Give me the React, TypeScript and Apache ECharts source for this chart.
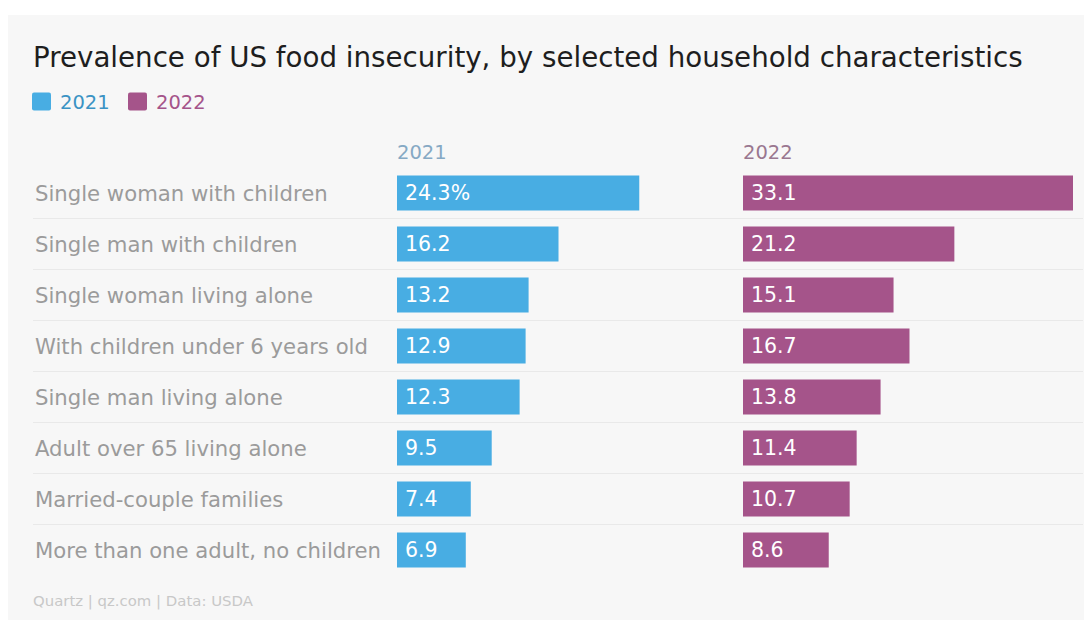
import React, { useEffect, useRef } from "react";
import * as echarts from "echarts";

const categories = [
  "Single woman with children",
  "Single man with children",
  "Single woman living alone",
  "With children under 6 years old",
  "Single man living alone",
  "Adult over 65 living alone",
  "Married-couple families",
  "More than one adult, no children",
];
const values2021 = [24.3, 16.2, 13.2, 12.9, 12.3, 9.5, 7.4, 6.9];
const values2022 = [33.1, 21.2, 15.1, 16.7, 13.8, 11.4, 10.7, 8.6];
const seriesNames = ["2021", "2022"];

const BLUE = "#48ade3";
const PURPLE = "#a5548a";
const FONT = "'DejaVu Sans', Verdana, sans-serif";

export default function App() {
  const ref = useRef<HTMLDivElement>(null);
  useEffect(() => {
    if (!ref.current) return;
    const chart = echarts.init(ref.current, null, { renderer: "svg" });
    const gridTop = 159.5;
    const gridH = 408;
    const sepColors = ["rgba(0,0,0,0)", ...Array(7).fill("#e9e9e9"), "rgba(0,0,0,0)"];
    chart.setOption({
      animation: false,
      backgroundColor: "#ffffff",
      textStyle: { fontFamily: FONT },
      graphic: [
        { type: "rect", z: -10, shape: { x: 0, y: 7, width: 1084, height: 605 }, style: { fill: "#f7f7f7" } },
        { type: "text", x: 25, y: 49, style: { text: "Prevalence of US food insecurity, by selected household characteristics", fontSize: 27.7, fill: "#1e1e1e", fontFamily: FONT, verticalAlign: "middle" } },
        { type: "rect", shape: { x: 24, y: 84.5, width: 19, height: 18, r: 2 }, style: { fill: BLUE } },
        { type: "text", x: 52, y: 94, style: { text: seriesNames[0], fontSize: 19.5, fill: "#3b93c4", fontFamily: FONT, verticalAlign: "middle" } },
        { type: "rect", shape: { x: 120, y: 84.5, width: 19, height: 18, r: 2 }, style: { fill: PURPLE } },
        { type: "text", x: 148, y: 94, style: { text: seriesNames[1], fontSize: 19.5, fill: "#a5548a", fontFamily: FONT, verticalAlign: "middle" } },
        { type: "text", x: 389, y: 144, style: { text: seriesNames[0], fontSize: 19.5, fill: "#86a9c4", fontFamily: FONT, verticalAlign: "middle" } },
        { type: "text", x: 735, y: 144, style: { text: seriesNames[1], fontSize: 19.5, fill: "#9a7790", fontFamily: FONT, verticalAlign: "middle" } },
        { type: "text", x: 25, y: 593, style: { text: "Quartz | qz.com | Data: USDA", fontSize: 14.9, fill: "#c8c8c8", fontFamily: FONT, verticalAlign: "middle" } },
      ],
      grid: [
        { left: 389, top: gridTop, width: 330, height: gridH },
        { left: 735, top: gridTop, width: 330, height: gridH },
        { left: 25, top: gridTop, width: 1050, height: gridH },
      ],
      xAxis: [0, 1, 2].map((i) => ({ type: "value", gridIndex: i, min: 0, max: 33.1, show: false })),
      yAxis: [
        {
          type: "category", gridIndex: 0, data: categories, inverse: true,
          axisLine: { show: false }, axisTick: { show: false }, splitLine: { show: false },
          axisLabel: { align: "left", margin: 362, fontSize: 21.2, color: "#9b9b9b", fontFamily: FONT },
        },
        { type: "category", gridIndex: 1, data: categories, inverse: true, show: false },
        {
          type: "category", gridIndex: 2, data: categories, inverse: true,
          axisLine: { show: false }, axisTick: { show: false }, axisLabel: { show: false },
          splitLine: { show: true, lineStyle: { color: sepColors, width: 1 } },
        },
      ],
      series: [
        {
          type: "bar", name: seriesNames[0], xAxisIndex: 0, yAxisIndex: 0, data: values2021, barWidth: 35,
          itemStyle: { color: BLUE },
          label: {
            show: true, position: "insideLeft", distance: 8, color: "#ffffff", fontSize: 20.5, fontFamily: FONT,
            formatter: (p: any) => (p.dataIndex === 0 ? `${p.value}%` : `${p.value}`),
          },
        },
        {
          type: "bar", name: seriesNames[1], xAxisIndex: 1, yAxisIndex: 1, data: values2022, barWidth: 35,
          itemStyle: { color: PURPLE },
          label: { show: true, position: "insideLeft", distance: 8, color: "#ffffff", fontSize: 20.5, fontFamily: FONT },
        },
      ],
    });
    return () => chart.dispose();
  }, []);
  return <div ref={ref} style={{ width: 1084, height: 612 }} />;
}
